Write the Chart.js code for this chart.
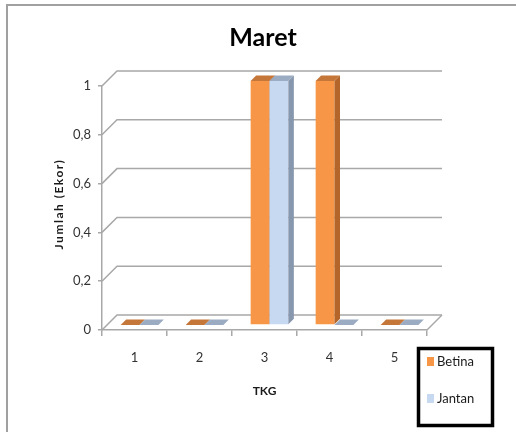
<!DOCTYPE html>
<html>
<head>
<meta charset="utf-8">
<script src="https://cdn.jsdelivr.net/npm/chart.js@4/dist/chart.umd.min.js"></script>
<style>
  html, body { margin: 0; padding: 0; background: #ffffff; }
  canvas { display: block; }
</style>
</head>
<body>
<canvas id="c" width="516" height="432"></canvas>
<script>
// TKG categories and counts per sex (Maret)
const categories = ['1', '2', '3', '4', '5'];
const betina = [0, 0, 1, 1, 0];
const jantan = [0, 0, 1, 0, 0];
const yTickLabels = ['0', '0,2', '0,4', '0,6', '0,8', '1'];

const FONT = 'Lato, "Open Sans", sans-serif';
const GRID = '#a8a8a8';
const WALL = 15;      // depth of the back wall
const BAR_SHIFT = 5;  // bars stand a little behind the front plane
const BAR_DEPTH = 5.5;

const faceColors = [
  { side: '#b3652a', top: '#c5773a' },
  { side: '#8797ad', top: '#9aabc2' }
];

// 3D frame: back wall gridlines, floor, extruded bars, title, axis titles, legend
const box3d = {
  id: 'box3d',
  beforeDatasetsDraw(chart) {
    const { ctx, chartArea: a, scales: { y } } = chart;
    ctx.save();
    // outer frame
    ctx.strokeStyle = '#a0a0a0';
    ctx.lineWidth = 2;
    ctx.beginPath();
    ctx.moveTo(7, 433); ctx.lineTo(7, 5); ctx.lineTo(517, 5);
    ctx.stroke();

    ctx.strokeStyle = GRID;
    ctx.lineWidth = 1.5;
    y.ticks.forEach(t => {
      const py = y.getPixelForValue(t.value);
      ctx.beginPath();
      ctx.moveTo(a.left, py);
      ctx.lineTo(a.left + WALL, py - WALL);
      ctx.lineTo(a.right + WALL, py - WALL);
      ctx.stroke();
    });
    // floor right edge
    const p0 = y.getPixelForValue(0);
    ctx.beginPath();
    ctx.moveTo(a.right, p0);
    ctx.lineTo(a.right + WALL, p0 - WALL);
    ctx.stroke();
    ctx.restore();
  },
  // bars are painted below, left to right, so each one's faces overlap correctly
  beforeDatasetDraw() { return false; },
  afterDatasetsDraw(chart) {
    const ctx = chart.ctx;
    const d = BAR_DEPTH;
    const items = [];
    chart.data.datasets.forEach((ds, i) => {
      chart.getDatasetMeta(i).data.forEach(el => items.push({ el, i }));
    });
    items.sort((p, q) => p.el.x - q.el.x);
    ctx.save();
    ctx.translate(BAR_SHIFT, -BAR_SHIFT);
    items.forEach(({ el, i }) => {
      const cols = faceColors[i];
      el.draw(ctx);
      const l = el.x - el.width / 2, r = el.x + el.width / 2;
      const top = Math.min(el.y, el.base), bot = Math.max(el.y, el.base);
      ctx.fillStyle = cols.side;
      ctx.beginPath();
      ctx.moveTo(r, top); ctx.lineTo(r + d, top - d);
      ctx.lineTo(r + d, bot - d); ctx.lineTo(r, bot);
      ctx.closePath(); ctx.fill();
      ctx.fillStyle = cols.top;
      ctx.beginPath();
      ctx.moveTo(l, top); ctx.lineTo(l + d, top - d);
      ctx.lineTo(r + d, top - d); ctx.lineTo(r, top);
      ctx.closePath(); ctx.fill();
    });
    ctx.restore();
  },
  afterDraw(chart) {
    const { ctx, chartArea: a } = chart;
    ctx.save();
    ctx.fillStyle = '#000000';
    ctx.textAlign = 'center';
    ctx.textBaseline = 'middle';
    ctx.font = 'bold 25px ' + FONT;
    ctx.fillText('Maret', 263, 38);

    ctx.fillStyle = '#1a1a1a';
    ctx.font = 'bold 12px ' + FONT;
    ctx.fillText('TKG', (a.left + a.right) / 2, 391);

    ctx.save();
    ctx.translate(59, 204);
    ctx.rotate(-Math.PI / 2);
    ctx.letterSpacing = '1.5px';
    ctx.fillText('Jumlah (Ekor)', 0, 0);
    ctx.restore();

    // legend
    ctx.strokeStyle = '#000000';
    ctx.lineWidth = 3.5;
    ctx.strokeRect(418.5, 348.5, 74, 77);
    ctx.font = '13px ' + FONT;
    ctx.textAlign = 'left';
    const rows = [361, 398];
    chart.data.datasets.forEach((ds, i) => {
      ctx.fillStyle = ds.backgroundColor;
      ctx.fillRect(427, rows[i] - 4, 7, 9);
      ctx.fillStyle = '#1a1a1a';
      ctx.fillText(ds.label, 437, rows[i] + 1);
    });
    ctx.restore();
  }
};

new Chart(document.getElementById('c'), {
  type: 'bar',
  data: {
    labels: categories,
    datasets: [
      { label: 'Betina', data: betina, backgroundColor: '#f79646' },
      { label: 'Jantan', data: jantan, backgroundColor: '#c6d9f1' }
    ]
  },
  options: {
    responsive: false,
    animation: false,
    events: [],
    layout: { padding: { left: 0, right: 89, top: 86, bottom: 0 } },
    datasets: { bar: { categoryPercentage: 0.58, barPercentage: 1, borderWidth: 0 } },
    plugins: { legend: { display: false }, title: { display: false }, tooltip: { enabled: false } },
    scales: {
      x: {
        afterFit(s) { s.height = 102; },
        grid: { offset: true, drawOnChartArea: false, drawTicks: true, tickLength: 6, color: GRID, lineWidth: 1.5 },
        border: { display: true, color: GRID, width: 1.5 },
        ticks: { padding: 14, color: '#333333', font: { family: FONT, size: 13 } }
      },
      y: {
        min: 0, max: 1,
        afterFit(s) { s.width = 102; },
        grid: { drawOnChartArea: false, drawTicks: true, tickLength: 4, color: GRID, lineWidth: 1.5 },
        border: { display: true, color: GRID, width: 1.5 },
        ticks: {
          stepSize: 0.2, padding: 7, color: '#333333',
          font: { family: FONT, size: 13 },
          callback: (v, i) => yTickLabels[i]
        }
      }
    }
  },
  plugins: [box3d]
});
</script>
</body>
</html>
